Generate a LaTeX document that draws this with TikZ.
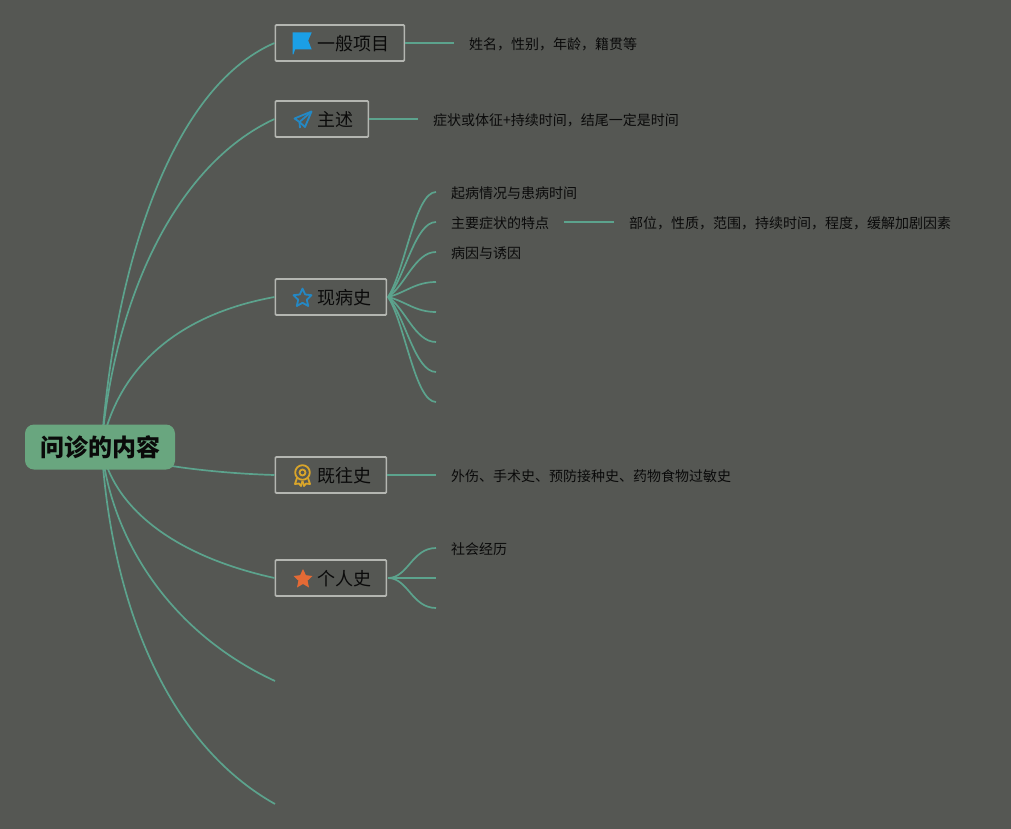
\documentclass[tikz,border=0pt]{standalone}
\usepackage{fontspec}
\setmainfont{Noto Sans CJK SC}
\definecolor{bg}{HTML}{555753}
\definecolor{lnk}{HTML}{5CA38D}
\definecolor{bord}{HTML}{B4B6B1}
\definecolor{rootc}{HTML}{69A67F}
\definecolor{txt}{HTML}{0A0A0A}
\definecolor{ibl}{HTML}{1B9FE6}
\definecolor{ibl2}{HTML}{2488C4}
\definecolor{iyl}{HTML}{D9A52A}
\definecolor{ior}{HTML}{E46A35}
\tikzset{
 link/.style={draw=lnk,line width=1.7pt},
 topic/.style={draw=bord,line width=1.7pt,rounded corners=1pt,minimum height=36pt,inner sep=0pt,anchor=west},
 label/.style={anchor=west,inner sep=0pt,text=txt,font=\fontsize{18pt}{20pt}\selectfont},
 note/.style={anchor=west,inner sep=0pt,text=txt,font=\fontsize{14pt}{16pt}\selectfont},
 rootn/.style={fill=rootc,rounded corners=9pt,minimum width=150pt,minimum height=45pt,inner sep=0pt,text=txt,font=\fontsize{24pt}{26pt}\selectfont\bfseries},
 iconline/.style={line width=1.8pt,line join=round,fill=none}
}
\begin{document}
\begin{tikzpicture}[x=1pt,y=-1pt]
\path[use as bounding box,fill=bg] (0,0) rectangle (1011,829);
% nodes
\coordinate (hub) at (101.5,447);
\node[topic,minimum width=129pt] (t1) at (274.5,43) {};
\node[topic,minimum width=93pt] (t2) at (274.5,119) {};
\node[topic,minimum width=111pt] (t3) at (274.5,297) {};
\node[topic,minimum width=111pt] (t4) at (274.5,475) {};
\node[topic,minimum width=111pt] (t5) at (274.5,578) {};
\coordinate (t6) at (275,681);
\coordinate (t7) at (275,804);
% root links
\draw[link] (hub) .. controls (114,270) and (170,88) .. (t1.west);
\draw[link] (hub) .. controls (114,300) and (175,165) .. (t2.west);
\draw[link] (hub) .. controls (117,370) and (175,315) .. (t3.west);
\draw[link] (hub) .. controls (125,462) and (205,473) .. (t4.west);
\draw[link] (hub) .. controls (112,505) and (170,555) .. (t5.west);
\draw[link] (hub) .. controls (112,545) and (175,635) .. (t6);
\draw[link] (hub) .. controls (112,610) and (170,745) .. (t7);
\node[rootn] (root) at (100,447) {\hspace{1pt}问诊的内容};
% topic labels
\node[label] (l1) at (317,44) {一般项目};
\node[label] (l2) at (317,120) {主述};
\node[label] (l3) at (317,298) {现病史};
\node[label] (l4) at (317,476) {既往史};
\node[label] (l5) at (317,579) {个人史};
% notes
\node[note] (n1) at (469,44) {姓名，性别，年龄，籍贯等};
\node[note] (n2) at (433,120) {症状或体征+持续时间，结尾一定是时间};
\node[note] (a1) at (451,193) {起病情况与患病时间};
\node[note] (a2) at (451,223) {主要症状的特点};
\node[note] (a3) at (451,253) {病因与诱因};
\node[note] (a2d) at (629,223) {部位，性质，范围，持续时间，程度，缓解加剧因素};
\node[note] (n4) at (451,476) {外伤、手术史、预防接种史、药物食物过敏史};
\node[note] (c1) at (451,549) {社会经历};
% free ends
\coordinate (e1) at (436,192);
\coordinate (e2) at (436,222);
\coordinate (e3) at (436,252);
\coordinate (e4) at (436,282);
\coordinate (e5) at (436,312);
\coordinate (e6) at (436,342);
\coordinate (e7) at (436,372);
\coordinate (e8) at (436,402);
\coordinate (f1) at (436,548);
\coordinate (f2) at (436,578);
\coordinate (f3) at (436,608);
\coordinate (g1) at (454,43);
\coordinate (g2) at (418,119);
\coordinate (g4) at (436,475);
\coordinate (h1) at (564,222);
\coordinate (h2) at (614,222);
\coordinate (s3) at (388,297);
\coordinate (s5) at (388,578);
% sub links
\draw[link] (t1.east) -- (g1);
\draw[link] (t2.east) -- (g2);
\draw[link] (t4.east) -- (g4);
\draw[link] (h1) -- (h2);
\draw[link] (s3) .. controls (405,271) and (415,192) .. (e1);
\draw[link] (s3) .. controls (405,278) and (415,222) .. (e2);
\draw[link] (s3) .. controls (405,286) and (415,252) .. (e3);
\draw[link] (s3) .. controls (405,293) and (415,282) .. (e4);
\draw[link] (s3) .. controls (405,301) and (415,312) .. (e5);
\draw[link] (s3) .. controls (405,308) and (415,342) .. (e6);
\draw[link] (s3) .. controls (405,316) and (415,372) .. (e7);
\draw[link] (s3) .. controls (405,323) and (415,402) .. (e8);
\draw[link] (s5) .. controls (408,578) and (412,548) .. (f1);
\draw[link] (s5) -- (f2);
\draw[link] (s5) .. controls (408,578) and (412,608) .. (f3);
% icons
\fill[ibl] (292.7,32.5) -- (311.7,32.5) -- (308.2,40.5) -- (311.7,49.5) -- (295,49.5) -- (293.4,54.5) -- (292.7,54.5) -- cycle;
\draw[ibl2,iconline] (311.5,111.5) -- (294.5,118.5) -- (299.5,122) -- (305,127) -- cycle;
\draw[ibl2,iconline] (311.5,111.5) -- (299.5,122) -- (300,128);
\draw[ibl2,iconline] (302.5,288.5) -- (305.2,294.5) -- (311.5,295.2) -- (306.8,299.7) -- (308.2,306) -- (302.5,302.8) -- (296.8,306) -- (298.2,299.7) -- (293.5,295.2) -- (299.8,294.5) -- cycle;
\draw[iyl,iconline] (302.5,472.5) circle (7.3);
\draw[iyl,iconline] (302.5,472.5) circle (3);
\draw[iyl,iconline] (297,478) -- (295,484) -- (299,483.5) -- (301,486) -- (302.5,481);
\draw[iyl,iconline] (308,478) -- (310,484) -- (306,483.5) -- (304,486) -- (302.5,481);
\fill[ior] (303,569) -- (305.9,575.2) -- (312.5,576) -- (307.6,580.6) -- (309,587.5) -- (303,584) -- (297,587.5) -- (298.4,580.6) -- (293.5,576) -- (300.1,575.2) -- cycle;
\end{tikzpicture}
\end{document}
